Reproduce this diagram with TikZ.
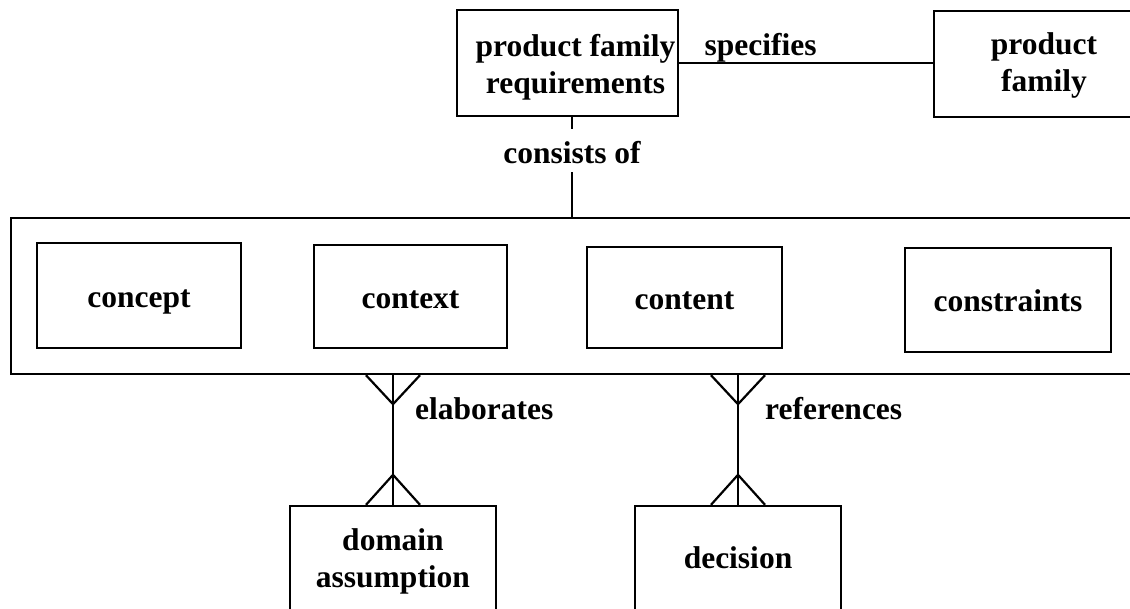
\documentclass[tikz,border=0pt]{standalone}
\usepackage{fontspec}
\setmainfont{Liberation Serif}
\setlength{\tabcolsep}{0pt}
\begin{document}
\begin{tikzpicture}[x=1pt,y=-1pt,
  txt/.style={font=\bfseries\fontsize{31.5}{37}\selectfont},
  box/.style={draw,line width=2.4pt,rectangle,inner sep=0pt,txt},
  single/.style={text height=30pt,text depth=7pt},
  lbl/.style={inner sep=0pt,txt},
  link/.style={line width=2.2pt}]
\useasboundingbox (0,0) rectangle (1130,608);
\clip (0,0) rectangle (1130,608);

% top row (two-line texts set as bottom-aligned tabulars)
\node[box,minimum width=221pt,minimum height=106pt,text height=70pt,text depth=10pt] (pfr) at (567.5,63)
  {\hspace*{16pt}\begin{tabular}[b]{c}product family\\requirements\end{tabular}};
\node[box,minimum width=220pt,minimum height=106pt,text height=66pt,text depth=12pt] (pf) at (1044,64)
  {\begin{tabular}[b]{c}product\\family\end{tabular}};

% aggregate of the four parts
\node[box,minimum width=1140pt,minimum height=156pt] (group) at (581,296) {};
\node[box,single,minimum width=204pt,minimum height=105pt] (concept) at (139,295.5) {concept};
\node[box,single,minimum width=193pt,minimum height=103pt] (context) at (410.5,296.5) {context};
\node[box,single,minimum width=195pt,minimum height=101pt] (content) at (684.5,297.5) {content};
\node[box,single,minimum width=206pt,minimum height=104pt] (constraints) at (1008,300) {constraints};

% bottom row
\node[box,minimum width=206pt,minimum height=134pt,text height=50pt,text depth=22pt] (domain) at (393,573)
  {\begin{tabular}[b]{c}domain\\assumption\end{tabular}};
\node[box,minimum width=206pt,minimum height=134pt,text height=10pt,text depth=20pt] (decision) at (738,573) {decision};

% specifies
\draw[link] (pfr.east) -- (pfr.east -| pf.west);
\node[lbl,anchor=base] (spec) at (760.5,55) {specifies};

% consists of
\node[lbl,anchor=base] (cons) at (572,163) {consists of};
\draw[link] (pfr.south -| cons) -- ++(0,12);
\draw[link] (group.north -| cons) -- ++(0,-45);

% elaborates (many-to-many)
\coordinate (ea) at (group.south -| domain.north);
\draw[link] (ea) -- (domain.north);
\draw[link] ([xshift=-27pt]ea) -- ([yshift=-29pt]ea) -- ([xshift=27pt]ea);
\draw[link] ([xshift=-27pt]domain.north) -- ([yshift=30pt]domain.north) -- ([xshift=27pt]domain.north);
\node[lbl,anchor=base west] (elab) at (415,419) {elaborates};

% references (many-to-many)
\coordinate (ra) at (group.south -| decision.north);
\draw[link] (ra) -- (decision.north);
\draw[link] ([xshift=-27pt]ra) -- ([yshift=-29pt]ra) -- ([xshift=27pt]ra);
\draw[link] ([xshift=-27pt]decision.north) -- ([yshift=30pt]decision.north) -- ([xshift=27pt]decision.north);
\node[lbl,anchor=base west] (refs) at (765,419) {references};
\end{tikzpicture}
\end{document}
